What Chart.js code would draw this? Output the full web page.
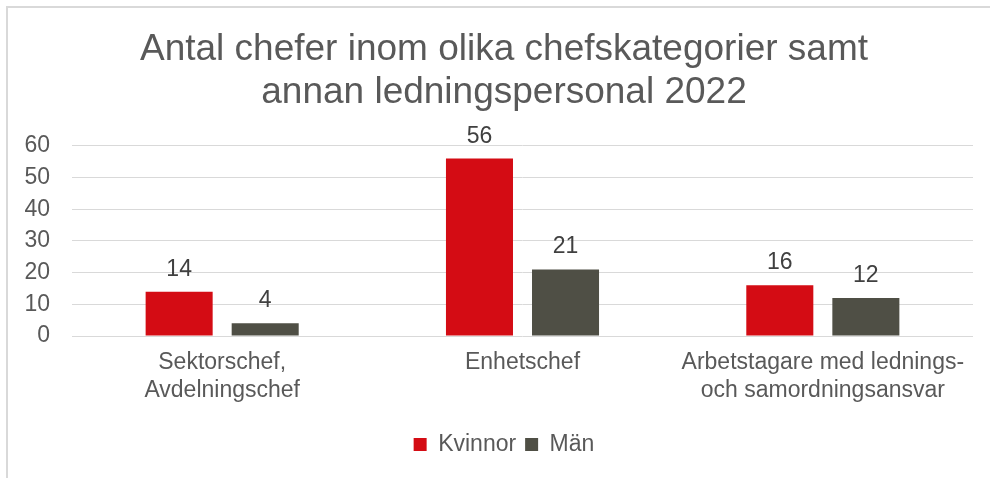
<!DOCTYPE html>
<html>
<head>
<meta charset="utf-8">
<script src="https://cdn.jsdelivr.net/npm/chart.js@4/dist/chart.umd.min.js"></script>
<style>
  body { margin: 0; background: #fff; }
  #frame { position: absolute; left: 6px; top: 6px; width: 990px; height: 480px;
           border-left: 2px solid #d9d9d9; border-top: 2px solid #d9d9d9; }
  #myChart { position: absolute; left: 0; top: 0; }
</style>
</head>
<body>
<div id="frame"></div>
<canvas id="myChart" width="990" height="478"></canvas>
<script>
'use strict';

const categories = [
  ['Sektorschef,', 'Avdelningschef'],
  'Enhetschef',
  ['Arbetstagare med lednings-', 'och samordningsansvar'],
];
const kvinnor = [14, 56, 16];
const man = [4, 21, 12];
const yTicks = [0, 10, 20, 30, 40, 50, 60];

const fontFamily = "Arial, 'Liberation Sans', sans-serif";
const textColor = '#595959';

// draws the value above each bar
const barLabels = {
  id: 'barLabels',
  afterDatasetsDraw(chart) {
    const ctx = chart.ctx;
    ctx.save();
    ctx.font = '23px ' + fontFamily;
    ctx.fillStyle = '#404040';
    ctx.textAlign = 'center';
    ctx.textBaseline = 'alphabetic';
    chart.data.datasets.forEach((ds, i) => {
      chart.getDatasetMeta(i).data.forEach((bar, j) => {
        ctx.fillText(ds.data[j], bar.x, bar.y - 16);
      });
    });
    ctx.restore();
  },
};

new Chart(document.getElementById('myChart'), {
  type: 'bar',
  data: {
    labels: categories,
    datasets: [
      {
        label: 'Kvinnor',
        data: kvinnor,
        backgroundColor: '#d40c14',
        categoryPercentage: 0.573,
        barPercentage: 0.779,
      },
      {
        label: 'Män',
        data: man,
        backgroundColor: '#4f4f45',
        categoryPercentage: 0.573,
        barPercentage: 0.779,
      },
    ],
  },
  options: {
    responsive: false,
    animation: false,
    layout: { padding: { top: 0, right: 17, bottom: 12, left: 35 } },
    plugins: {
      title: {
        display: true,
        text: ['Antal chefer inom olika chefskategorier samt', 'annan ledningspersonal 2022'],
        color: textColor,
        font: { family: fontFamily, size: 37, weight: 'normal', lineHeight: 1.16 },
        padding: { top: 28, bottom: 32 },
      },
      legend: {
        position: 'bottom',
        labels: {
          color: textColor,
          font: { family: fontFamily, size: 23 },
          boxWidth: 13,
          boxHeight: 13,
          padding: 9,
        },
      },
      tooltip: { enabled: false },
    },
    scales: {
      x: {
        grid: { display: false },
        border: { display: false },
        ticks: {
          color: textColor,
          font: { family: fontFamily, size: 23, lineHeight: 1.217 },
          padding: 5,
          maxRotation: 0,
        },
        afterFit(scale) { scale.height = 88; },
      },
      y: {
        min: 0,
        max: 60,
        afterBuildTicks(scale) { scale.ticks = yTicks.map((v) => ({ value: v })); },
        grid: { color: '#d9d9d9', lineWidth: 1, drawTicks: false },
        border: { display: false },
        ticks: {
          color: textColor,
          font: { family: fontFamily, size: 23 },
          padding: 22,
        },
        afterFit(scale) {
          scale.width = 37;
          // let the tick labels reach into the left padding
          scale._computeLabelArea = () => undefined;
        },
      },
    },
  },
  plugins: [barLabels],
});
</script>
</body>
</html>
